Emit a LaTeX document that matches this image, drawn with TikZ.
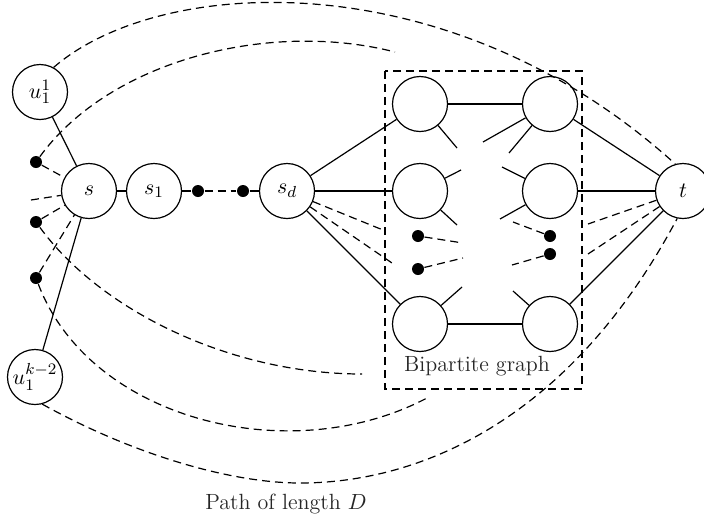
\documentclass[tikz,border=0pt]{standalone}
\usetikzlibrary{calc}
\begin{document}
\begin{tikzpicture}[x=0.5pt,y=-0.5pt,
  line width=0.6pt,
  vert/.style={draw,circle,minimum size=27.5pt,inner sep=0pt,font=\fontsize{11}{13}\selectfont},
  dotnode/.style={circle,fill,minimum size=6pt,inner sep=0pt},
  dline/.style={dash pattern=on 4pt off 2.5pt},
  lbl/.style={font=\fontsize{11}{13}\selectfont,text=black!85}]
\useasboundingbox (0,0) rectangle (704,525);

% path from s to s_d
\node[vert] (u1) at (40,92) {$u_1^1$};
\node[vert] (uk) at (35,377) {$u_1^{k-2}$};
\node[vert] (s) at (89,191) {$s$};
\node[vert] (s1) at (154,191) {$s_1$};
\node[dotnode] (da) at (198,191) {};
\node[dotnode] (db) at (243,191) {};
\node[vert] (sd) at (287,191) {$s_d$};

% bipartite part
\node[vert] (bl1) at (420,104) {};
\node[vert] (br1) at (550,104) {};
\node[vert] (bl2) at (420,191) {};
\node[vert] (br2) at (550,191) {};
\node[vert] (bl3) at (420,324) {};
\node[vert] (br3) at (550,324) {};
\node[vert] (t) at (683,191) {$t$};

% elided vertices
\node[dotnode] (L1) at (36,162) {};
\node[dotnode] (L2) at (36,222) {};
\node[dotnode] (L3) at (36,278) {};
\node[dotnode] (P1) at (418,236) {};
\node[dotnode] (P2) at (418,269) {};
\node[dotnode] (Q1) at (550,236) {};
\node[dotnode] (Q2) at (550,254) {};

% free ends
\coordinate (sl) at (31,200);
\coordinate (sda) at (383,230);
\coordinate (sdb) at (392,263);
\coordinate (ta) at (588,224);
\coordinate (tb) at (588,254);
\coordinate (ia) at (395,52);
\coordinate (ib) at (362,374);
\coordinate (ic) at (427,398);

% box around the bipartite graph
\draw[dline] (385,71) rectangle (582,389);
\node[lbl] (bp) at (477,366) {Bipartite graph};
\node[lbl] (pl) at (286,504) {Path of length $D$};

% solid edges
\draw (u1) -- (s);
\draw (uk) -- (s);
\draw (s) -- (s1);
\draw (s1) -- (da);
\draw (db) -- (sd);
\draw (sd) -- (bl1);
\draw (sd) -- (bl2);
\draw (sd) -- (bl3);
\draw (bl1) -- (br1);
\draw (bl3) -- (br3);
\draw (br1) -- (t);
\draw (br2) -- (t);
\draw (br3) -- (t);

% partial edges inside the bipartite graph
\draw (bl1) -- (457,148);
\draw (br1) -- (483,142);
\draw (br1) -- (509,153);
\draw (bl2) -- (461,170);
\draw (bl2) -- (457,225);
\draw (br2) -- (502,167);
\draw (br2) -- (500,219);
\draw (bl3) -- (462,287);
\draw (br3) -- (513,291);

% dashed edges
\draw[dline] (da) -- (db);
\draw[dline] (L1) -- (s);
\draw[dline] (L2) -- (s);
\draw[dline] (L3) -- (s);
\draw[dline] (sl) -- (s);
\draw[dline] (sd) -- (sda);
\draw[dline] (sd) -- (sdb);
\draw[dline] (t) -- (ta);
\draw[dline] (t) -- (tb);
\draw[dline] (P1) -- (463,243);
\draw[dline] (P2) -- (463,258);
\draw[dline] (Q1) -- (513,222);
\draw[dline] (Q2) -- (512,265);

% long paths
\draw[dline] (u1.61) .. controls (160,-25) and (450,-40) .. (t.106);
\draw[dline] (L1) .. controls (110,60) and (270,20) .. (ia);
\draw[dline] (L2) .. controls (100,310) and (230,374) .. (ib);
\draw[dline] (L3) .. controls (90,420) and (290,470) .. (ic);
\draw[dline] (uk.-75) .. controls (132,454) and (230,483) .. (300,483)
  .. controls (420,483) and (570,420) .. (t.-102);
\end{tikzpicture}
\end{document}
